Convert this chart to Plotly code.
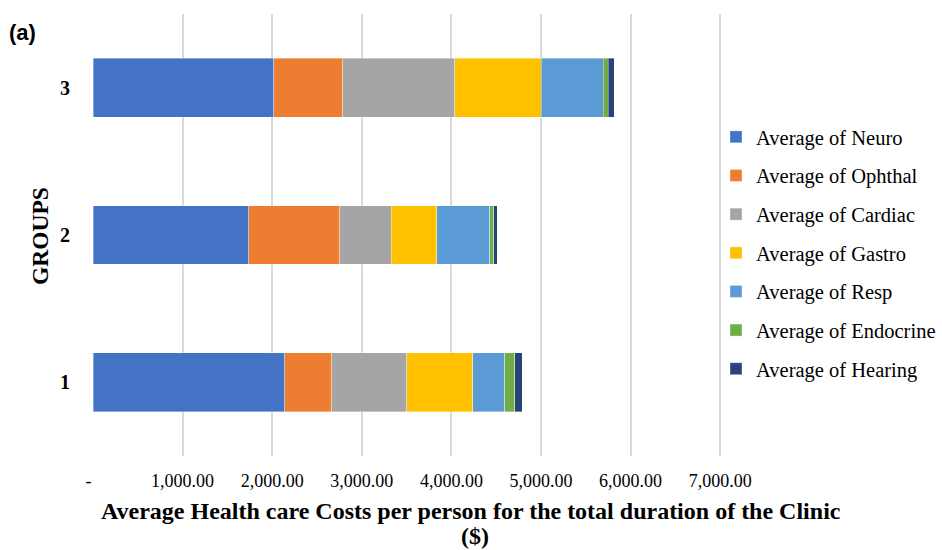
import plotly.graph_objects as go

# Average health care cost per person, by clinic group and specialty
groups = ["1", "2", "3"]
series = ["Average of Neuro", "Average of Ophthal", "Average of Cardiac",
          "Average of Gastro", "Average of Resp", "Average of Endocrine",
          "Average of Hearing"]
neuro = [2140, 1738, 2020]
ophthal = [527, 1015, 770]
cardiac = [837, 577, 1247]
gastro = [734, 506, 967]
resp = [360, 591, 688]
endocrine = [109, 45, 60]
hearing = [81, 41, 67]
values = [neuro, ophthal, cardiac, gastro, resp, endocrine, hearing]
colors = ["#4472C4", "#ED7D31", "#A5A5A5", "#FFC000", "#5B9BD5", "#70AD47", "#264478"]

tick_vals = [0, 1000, 2000, 3000, 4000, 5000, 6000, 7000]
tick_text = ["-  ", "1,000.00", "2,000.00", "3,000.00", "4,000.00",
             "5,000.00", "6,000.00", "7,000.00"]

W, H = 942, 550
X_MAX = 7020
ML, MT, MB = 93, 14, 94
PX_PER_UNIT = 0.0896
PW = round(X_MAX * PX_PER_UNIT)
MR = W - ML - PW
PH = H - MT - MB


def px_x(px):
    """Horizontal pixel position -> paper fraction."""
    return (px - ML) / PW


def px_y(py):
    """Vertical pixel position (from top) -> paper fraction."""
    return (H - MB - py) / PH


fig = go.Figure()
for i, (name, vals, col) in enumerate(zip(series, values, colors)):
    fig.add_trace(go.Bar(
        x=vals, y=groups, orientation="h", name=name,
        marker=dict(color=col, line=dict(width=0.6, color="rgba(255,255,255,0.6)")),
        legendgroup=f"g{i}",
    ))

serif = "Liberation Serif"

fig.update_layout(
    width=W, height=H,
    margin=dict(l=ML, r=MR, t=MT, b=MB, pad=0, autoexpand=False),
    barmode="stack", bargap=0.6,
    paper_bgcolor="white", plot_bgcolor="white",
    font=dict(family=serif, color="black"),
    xaxis=dict(
        range=[0, X_MAX], tickvals=tick_vals, ticktext=tick_text,
        showgrid=True, gridcolor="#D9D9D9", gridwidth=1.5,
        zeroline=False, showline=False,
        tickfont=dict(family=serif, size=18, color="black"),
        ticklabelstandoff=12,
    ),
    yaxis=dict(
        type="category", categoryorder="array", categoryarray=groups,
        range=[-0.5, 2.5], showgrid=False, zeroline=False, showline=False,
        tickfont=dict(family=serif, size=20, color="black", weight="bold"),
        ticklabelstandoff=22,
    ),
    legend=dict(
        x=px_x(716), xanchor="left", y=px_y(117), yanchor="top",
        font=dict(family=serif, size=20.5, color="black"),
        traceorder="grouped", tracegroupgap=9, bgcolor="rgba(0,0,0,0)",
    ),
    showlegend=True,
)

title_font = dict(family=serif, size=24, color="black", weight="bold")
fig.add_annotation(
    text="Average Health care Costs per person for the total duration of the Clinic",
    xref="paper", yref="paper", x=px_x(471), y=px_y(511),
    xanchor="center", yanchor="middle", showarrow=False, font=title_font,
)
fig.add_annotation(
    text="($)",
    xref="paper", yref="paper", x=px_x(475), y=px_y(536),
    xanchor="center", yanchor="middle", showarrow=False, font=title_font,
)
fig.add_annotation(
    text="GROUPS", textangle=-90,
    xref="paper", yref="paper", x=px_x(40), y=px_y(236),
    xanchor="center", yanchor="middle", showarrow=False,
    font=dict(family=serif, size=23.5, color="black", weight="bold"),
)
fig.add_annotation(
    text="(a)",
    xref="paper", yref="paper", x=px_x(7), y=px_y(33),
    xanchor="left", yanchor="middle", showarrow=False,
    font=dict(family="Liberation Sans", size=22, color="black", weight="bold"),
)

fig.write_html("out.html")
